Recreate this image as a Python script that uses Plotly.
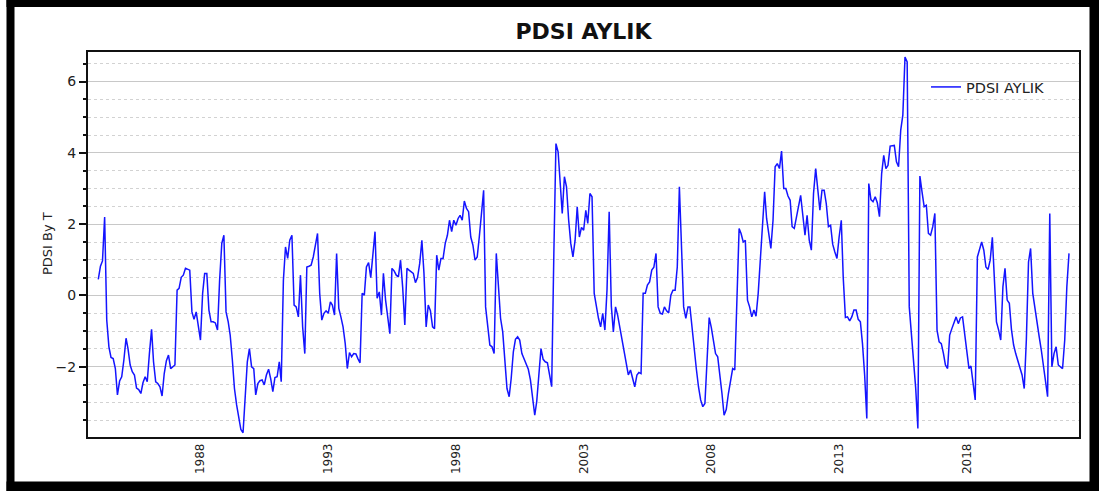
import pandas as pd
import plotly.graph_objects as go

# Monthly PDSI values, January 1984 onward
pdsi_1984_1993 = [
    0.45, 0.82, 0.97, 2.2, -0.69, -1.44, -1.74, -1.77, -2.05, -2.79,
    -2.4, -2.28, -1.81, -1.2, -1.49, -1.95, -2.14, -2.23, -2.6, -2.64,
    -2.75, -2.45, -2.28, -2.42, -1.63, -0.95, -1.86, -2.42, -2.47, -2.56,
    -2.82, -2.19, -1.83, -1.67, -2.05, -2.0, -1.95, 0.15, 0.2, 0.51,
    0.57, 0.76, 0.73, 0.71, -0.46, -0.67, -0.46, -0.83, -1.25, 0.06,
    0.62, 0.62, -0.41, -0.74, -0.74, -0.77, -0.97, 0.43, 1.46, 1.69,
    -0.46, -0.74, -1.11, -1.81, -2.61, -3.07, -3.45, -3.76, -3.85, -2.84,
    -1.86, -1.49, -2.0, -2.05, -2.79, -2.47, -2.39, -2.37, -2.51, -2.23,
    -2.07, -2.33, -2.7, -2.3, -2.28, -1.86, -2.42, 0.43, 1.36, 1.04,
    1.55, 1.69, -0.27, -0.32, -0.6, 0.57, -0.88, -1.63, 0.8, 0.82,
    0.85, 1.08, 1.46, 1.74, 0.06, -0.69, -0.5, -0.43, -0.5,
]
pdsi_1993_2002 = [
    -0.18, -0.27, -0.55, 1.18, -0.36, -0.6, -0.88, -1.35, -2.05, -1.6,
    -1.72, -1.63, -1.64, -1.77, -1.89, 0.06, 0.01, 0.8, 0.92, 0.5,
    1.13, 1.79, -0.08, 0.1, -0.55, 0.62, -0.13, -0.69, -1.07, 0.76,
    0.69, 0.57, 0.52, 0.99, 0.24, -0.83, 0.76, 0.71, 0.66, 0.62,
    0.36, 0.5, 0.9, 1.55, 0.62, -0.88, -0.27, -0.43, -0.88, -0.93,
    1.13, 0.71, 1.04, 1.04, 1.46, 1.69, 2.11, 1.79, 2.11, 1.97,
    2.16, 2.25, 2.11, 2.65, 2.44, 2.35, 1.64, 1.41, 0.99, 1.08,
    1.64, 2.3, 2.95, -0.32, -0.79, -1.39, -1.44, -1.63, 1.18, 0.06,
    -0.64, -1.02, -1.91, -2.61, -2.84, -2.33, -1.58, -1.23, -1.16, -1.25,
    -1.63, -1.79, -1.91, -2.07, -2.37, -2.89, -3.36, -2.98, -2.28, -1.49,
    -1.79, -1.86, -1.89, -2.23, -2.56, 1.18, 4.26, 4.03, 3.23, 2.3,
    3.33, 3.05, 2.11, 1.46, 1.08, 1.55, 2.49, 1.64,
]
pdsi_2002_2012 = [
    1.91, 1.83, 2.39, 2.02, 2.86, 2.77, 0.06, -0.32, -0.64, -0.88,
    -0.5, -0.97, 0.15, 2.35, -0.3, -1.02, -0.32, -0.55, -0.88, -1.25,
    -1.49, -1.91, -2.23, -2.09, -2.33, -2.56, -2.23, -2.16, -2.19, 0.06,
    0.06, 0.29, 0.38, 0.71, 0.79, 1.18, -0.32, -0.5, -0.52, -0.32,
    -0.43, -0.49, 0.01, 0.15, 0.15, 0.8, 3.05, 1.46, -0.32, -0.64,
    -0.32, -0.32, -0.97, -1.55, -2.07, -2.56, -2.93, -3.12, -3.03, -1.81,
    -0.62, -0.9, -1.25, -1.63, -1.72, -2.19, -2.75, -3.36, -3.2, -2.75,
    -2.42, -2.05, -2.09, 0.24, 1.88, 1.74, 1.5, 1.55, -0.13, -0.32,
    -0.6, -0.41, -0.58, 0.06, 1.08, 1.93, 2.91, 2.16, 1.69, 1.32,
    2.11, 3.61, 3.7, 3.56, 4.05, 3.0, 3.0, 2.79, 2.67, 1.93,
    1.88, 2.16, 2.53, 2.81, 2.25, 1.69, 2.25, 1.55, 1.27, 2.86,
    3.56, 2.95, 2.39, 2.95, 2.95, 2.58, 1.93,
]
pdsi_2012_2022 = [
    1.97, 1.44, 1.22, 1.04, 1.64, 2.11, 0.5, -0.62, -0.6, -0.71,
    -0.6, -0.41, -0.41, -0.67, -0.74, -1.35, -2.23, -3.45, 3.14, 2.69,
    2.63, 2.77, 2.6, 2.21, 3.42, 3.93, 3.56, 3.65, 4.19, 4.21,
    4.21, 3.75, 3.61, 4.64, 5.06, 6.69, 6.55, -0.32, -1.07, -1.86,
    -2.6, -3.73, 3.35, 2.9, 2.49, 2.53, 1.74, 1.69, 1.93, 2.3,
    -0.97, -1.3, -1.35, -1.63, -1.95, -2.05, -1.11, -0.93, -0.77, -0.6,
    -0.79, -0.63, -0.6, -1.07, -1.53, -2.05, -1.98, -2.47, -2.93, 1.08,
    1.29, 1.5, 1.27, 0.8, 0.73, 0.99, 1.63, 0.43, -0.74, -0.97,
    -1.25, 0.24, 0.76, -0.13, -0.22, -0.95, -1.39, -1.63, -1.86, -2.05,
    -2.23, -2.61, -1.25, 0.94, 1.32, 0.06, -0.39, -0.74, -1.16, -1.53,
    -1.95, -2.47, -2.84, 2.3, -2.0, -1.63, -1.44, -1.95, -2.0, -2.05,
    -1.25, 0.24, 1.18,
]

pdsi = pdsi_1984_1993 + pdsi_1993_2002 + pdsi_2002_2012 + pdsi_2012_2022
months = pd.date_range("1984-01-01", periods=len(pdsi), freq="MS")

year_ticks = ["1988", "1993", "1998", "2003", "2008", "2013", "2018"]
year_tickvals = [f"{y}-01-01" for y in year_ticks]

series_name = "PDSI AYLIK"
y_title = "PDSI By T"
y_range = [-3.97, 6.83]
x_range = ["1983-08-07", "2022-05-24"]

FONT = "DejaVu Sans"
TEXT = "#222222"

fig = go.Figure()
fig.add_trace(go.Scatter(
    x=months, y=pdsi, mode="lines", name=series_name,
    line=dict(color="#1414ff", width=1.5),
))

# Plot geometry (pixels) used for the outer frame
W, H = 1099, 491
L, R, T, B = 88, 20, 52, 54
pw, ph = W - L - R, H - T - B


def px(x):
    return (x - L) / pw


def py(y):
    return (H - B - y) / ph


frame = [
    (6.5, 0, 1099, 7),
    (6.5, 481.5, 1099, 491),
    (6.5, 0, 14.5, 491),
    (1089.5, 0, 1099, 491),
]
shapes = [
    dict(type="rect", xref="paper", yref="paper",
         x0=px(x0), x1=px(x1), y0=py(y1), y1=py(y0),
         fillcolor="black", line=dict(width=0), layer="above")
    for x0, y0, x1, y1 in frame
]

fig.update_layout(
    width=W, height=H,
    margin=dict(l=L, r=R, t=T, b=B),
    paper_bgcolor="white", plot_bgcolor="white",
    font=dict(family=FONT, color=TEXT),
    title=dict(text="<b>PDSI AYLIK</b>", x=(L + pw / 2) / W, xanchor="center",
               y=1 - 31 / H, yanchor="middle",
               font=dict(family=FONT, size=22, color="#111111")),
    showlegend=True,
    legend=dict(x=px(926), y=py(71), xanchor="left", yanchor="top",
                bgcolor="rgba(0,0,0,0)", borderwidth=0,
                font=dict(family=FONT, size=14.5, color=TEXT)),
    xaxis=dict(
        type="date", range=x_range,
        tickmode="array", tickvals=year_tickvals, ticktext=year_ticks,
        tickangle=-90, ticks="", showgrid=False, zeroline=False,
        showline=True, linecolor="#111111", linewidth=1.5, mirror=True,
        tickfont=dict(family=FONT, size=12, color=TEXT),
    ),
    yaxis=dict(
        range=y_range, dtick=2, tick0=0,
        ticks="outside", ticklen=7, tickwidth=1.5, tickcolor="#111111",
        showgrid=True, gridcolor="#c8c8c8", gridwidth=1.2,
        zeroline=False,
        showline=True, linecolor="#111111", linewidth=2, mirror=True,
        tickfont=dict(family=FONT, size=14, color=TEXT),
        minor=dict(dtick=0.5, tick0=0, ticks="outside", ticklen=3.5,
                   tickwidth=1.5, tickcolor="#111111",
                   showgrid=True, gridcolor="#d2d2d2", griddash="dot",
                   gridwidth=1),
    ),
    yaxis2=dict(
        overlaying="y", anchor="x", side="left", range=y_range,
        dtick=2, tick0=0, ticks="inside", ticklen=8, tickwidth=1.5,
        tickcolor="#111111", showticklabels=False, showgrid=False,
        zeroline=False, showline=False,
        minor=dict(dtick=0.5, tick0=0, ticks="inside", ticklen=5,
                   tickwidth=1.5, tickcolor="#111111", showgrid=False),
    ),
    annotations=[dict(
        text=y_title, textangle=-90, xref="paper", yref="paper",
        x=px(47), y=py(244), xanchor="center", yanchor="middle",
        showarrow=False, font=dict(family=FONT, size=13, color=TEXT),
    )],
    shapes=shapes,
)

fig.write_html("out.html")
